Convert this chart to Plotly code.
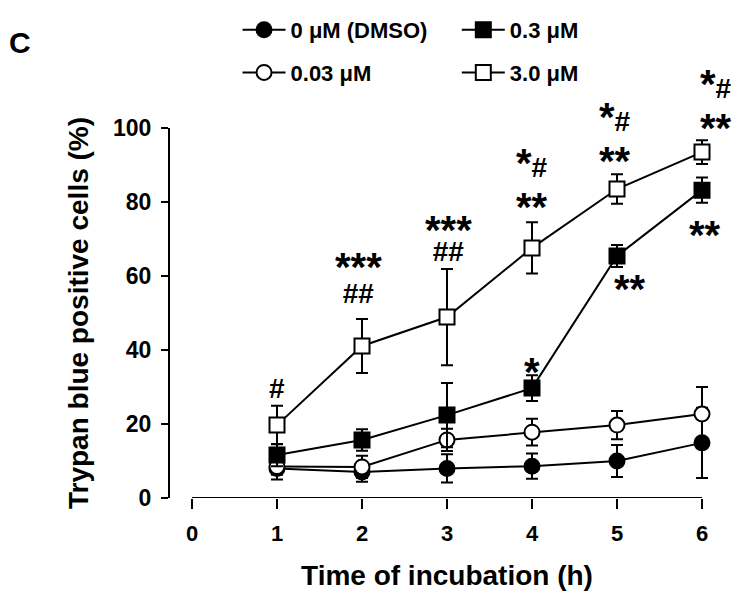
import re
import plotly.graph_objects as go

# ---------------- data ----------------
hours = [1, 2, 3, 4, 5, 6]

dmso = [8.0, 7.0, 8.0, 8.6, 10.0, 14.9]
dmso_err = [3.0, 2.6, 3.8, 3.4, 4.3, 9.5]

c003 = [8.5, 8.4, 15.7, 17.8, 19.7, 22.7]
c003_err = [2.2, 3.0, 3.0, 3.6, 3.8, 7.3]

c03 = [11.6, 15.7, 22.4, 29.7, 65.4, 83.2]
c03_err = [3.0, 2.9, 8.7, 3.5, 3.0, 3.4]

c30 = [19.7, 41.1, 48.9, 67.6, 83.5, 93.5]
c30_err = [5.2, 7.3, 13.0, 6.9, 4.0, 3.2]

series_names = ["0 \u03bcM (DMSO)", "0.03 \u03bcM", "0.3 \u03bcM", "3.0 \u03bcM"]

x_tickvals = [0, 1, 2, 3, 4, 5, 6]
y_tickvals = [0, 20, 40, 60, 80, 100]
x_range = [-0.2588, 6.2588]
y_range = [0, 100]

x_title = "Time of incubation (h)"
y_title = "Trypan blue positive cells (%)"
panel_label = "C"

# significance marks: upper line, lower line, hour position, value position (centre of group)
sig_line1 = ["#", "***", "***", "*#", "*", "*#", "**", "*#", "**"]
sig_line2 = ["", "##", "##", "**", "", "**", "", "**", ""]
sig_x = [1.0, 1.96, 3.02, 4.0, 4.0, 4.98, 5.153, 6.17, 6.035]
sig_y = [29.5, 59.9, 70.55, 86.9, 34.6, 99.4, 57.0, 108.3, 71.6]

# ---------------- figure ----------------
FONT = "Liberation Sans, Arial, Helvetica, sans-serif"
BLACK = "black"
STAR_PX = 40
HASH_PX = 28
GROUP_BASE = {1: 17}  # line spacing override for the 2 h group

fig = go.Figure()

styles = [
    dict(symbol="circle", fill=BLACK, legend="legend"),
    dict(symbol="circle", fill="white", legend="legend"),
    dict(symbol="square", fill=BLACK, legend="legend2"),
    dict(symbol="square", fill="white", legend="legend2"),
]
values = [dmso, c003, c03, c30]
errors = [dmso_err, c003_err, c03_err, c30_err]

for name, vals, errs, st in zip(series_names, values, errors, styles):
    fig.add_trace(go.Scatter(
        x=hours, y=vals, name=name, mode="lines+markers",
        line=dict(color=BLACK, width=2),
        marker=dict(symbol=st["symbol"], size=15, color=st["fill"],
                    line=dict(color=BLACK, width=2)),
        error_y=dict(type="data", array=errs, visible=True,
                     color=BLACK, thickness=2, width=6),
        legend=st["legend"], legendgroup=name,
        cliponaxis=False,
    ))


def styled(s):
    out = []
    for run in re.findall(r"\*+|#+", s):
        px = STAR_PX if run[0] == "*" else HASH_PX
        out.append("<span style='font-size:%dpx'>%s</span>" % (px, run))
    return "".join(out)


annotations = []
for i, (l1, l2, xx, yy) in enumerate(zip(sig_line1, sig_line2, sig_x, sig_y)):
    if l2:
        text = styled(l1) + "<br>" + styled(l2)
        base = 34 if l2 == "**" else GROUP_BASE.get(i, 13)
        shift = -9 if l2 == "**" else -1
    else:
        text = styled(l1)
        base = STAR_PX if l1.startswith("*") else HASH_PX
        shift = -2 if l1.startswith("*") else 0
    annotations.append(dict(
        x=xx, xref="x",
        y=(yy - y_range[0]) / (y_range[1] - y_range[0]), yref="y domain",
        text=text, showarrow=False, xanchor="center", yanchor="middle",
        align="center", yshift=shift,
        font=dict(family=FONT, size=base, color=BLACK, weight="bold"),
    ))

annotations.append(dict(
    x=-0.271, y=1.23, xref="paper", yref="paper", text=panel_label,
    showarrow=False, xanchor="center", yanchor="middle",
    font=dict(family=FONT, size=30, color=BLACK, weight="bold"),
))

legend_font = dict(family=FONT, size=22, color=BLACK, weight="bold")
legend_common = dict(yref="container", y=0.9983, xanchor="left", yanchor="top",
                     orientation="v", bgcolor="rgba(0,0,0,0)", tracegroupgap=11,
                     itemwidth=43, font=legend_font)

# page body has an 8px default margin, so the figure is 8px smaller
fig.update_layout(
    width=739, height=599, autosize=False,
    margin=dict(l=162, r=23, t=120, b=109),
    paper_bgcolor="white", plot_bgcolor="white",
    font=dict(family=FONT, color=BLACK),
    annotations=annotations,
    shapes=[dict(type="line", xref="x", yref="y", x0=x_tickvals[0], x1=x_tickvals[-1],
                 y0=0, y1=0, line=dict(color=BLACK, width=2))],
    legend=dict(x=0.1219, **legend_common),
    legend2=dict(x=0.5177, **legend_common),
)

fig.update_xaxes(
    range=x_range, tickvals=x_tickvals, showgrid=False, zeroline=False,
    showline=False, ticks="outside", ticklen=10, tickwidth=2, tickcolor=BLACK,
    ticklabelstandoff=6,
    tickfont=dict(family=FONT, size=22, color=BLACK, weight="bold"),
    title=dict(text=x_title, standoff=19,
               font=dict(family=FONT, size=28, color=BLACK, weight="bold")),
)
fig.update_yaxes(
    range=y_range, tickvals=y_tickvals, showgrid=False, zeroline=False,
    showline=True, linecolor=BLACK, linewidth=2,
    ticks="outside", ticklen=7, tickwidth=2, tickcolor=BLACK,
    ticklabelstandoff=5,
    tickfont=dict(family=FONT, size=23, color=BLACK, weight="bold"),
    title=dict(text=y_title, standoff=16,
               font=dict(family=FONT, size=28, color=BLACK, weight="bold")),
)

fig.write_html("out.html")
